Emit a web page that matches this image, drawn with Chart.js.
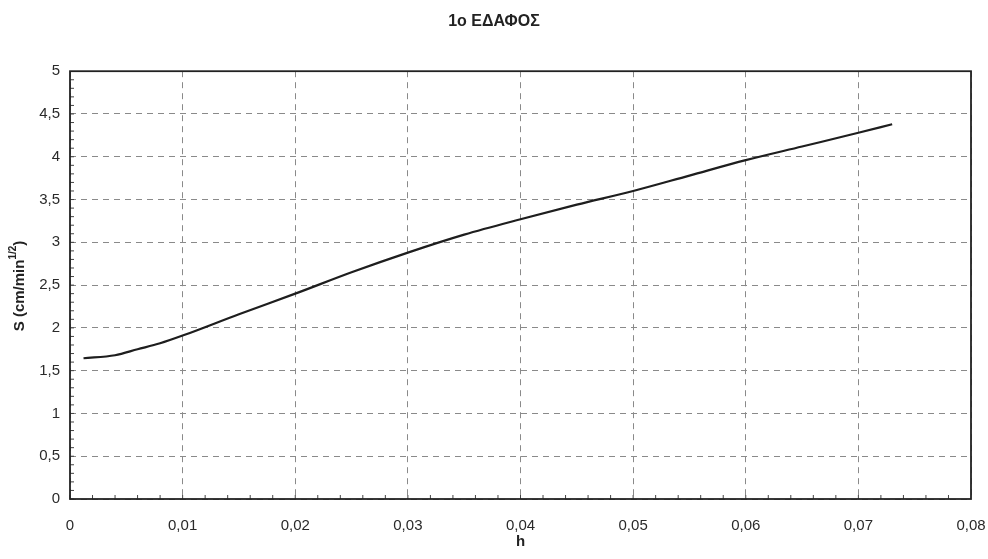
<!DOCTYPE html>
<html lang="el">
<head>
    <meta charset="UTF-8">
    <title>1o ΕΔΑΦΟΣ</title>
    <script src="https://cdn.jsdelivr.net/npm/chart.js"></script>
    <style>
        html, body { margin: 0; padding: 0; background: #fff; }
        #wrap { width: 988px; height: 559px; }
    </style>
</head>
<body>
    <div id="wrap"><canvas id="soilChart"></canvas></div>

    <script>
        // τιμές που διαβάστηκαν από το διάγραμμα
        const hValues = [0.0012, 0.004, 0.006, 0.008, 0.01, 0.015, 0.02, 0.025, 0.03, 0.035, 0.04, 0.045, 0.05, 0.055, 0.06, 0.065, 0.07, 0.073];
        const sValues = [1.645, 1.68, 1.75, 1.82, 1.91, 2.16, 2.40, 2.65, 2.88, 3.09, 3.27, 3.44, 3.60, 3.78, 3.96, 4.12, 4.28, 4.38];
        const xTicks = [0, 0.01, 0.02, 0.03, 0.04, 0.05, 0.06, 0.07, 0.08];
        const yTicks = [0, 0.5, 1, 1.5, 2, 2.5, 3, 3.5, 4, 4.5, 5];

        const FONT = '"Liberation Sans", Arial, sans-serif';
        const comma = v => String(Math.round(v * 100) / 100).replace('.', ',');

        // πλαίσιο γύρω από την περιοχή σχεδίασης + μικρές υποδιαιρέσεις
        const framePlugin = {
            id: 'frame',
            afterDraw(chart) {
                const { ctx, chartArea: a, scales } = chart;
                ctx.save();
                ctx.strokeStyle = '#444';
                ctx.lineWidth = 1;
                for (let i = 0; i < 40; i++) {
                    const px = scales.x.getPixelForValue(i * 0.002);
                    ctx.beginPath();
                    ctx.moveTo(px, a.bottom);
                    ctx.lineTo(px, a.bottom - 4);
                    ctx.stroke();
                }
                for (let i = 0; i < 50; i++) {
                    const py = scales.y.getPixelForValue(i * 0.1);
                    ctx.beginPath();
                    ctx.moveTo(a.left, py);
                    ctx.lineTo(a.left + 4, py);
                    ctx.stroke();
                }
                ctx.lineWidth = 1.8;
                ctx.strokeStyle = '#222';
                ctx.strokeRect(a.left, a.top, a.right - a.left, a.bottom - a.top);
                ctx.restore();
            }
        };

        // τίτλος άξονα y με εκθέτη
        const yTitlePlugin = {
            id: 'yTitle',
            afterDraw(chart) {
                const { ctx } = chart;
                const main = 'S (cm/min';
                const sup = '1/2';
                const big = 'bold 15px ' + FONT;
                const small = 'bold 10px ' + FONT;
                ctx.save();
                ctx.fillStyle = '#222';
                ctx.font = big;
                const w1 = ctx.measureText(main).width;
                const w3 = ctx.measureText(')').width;
                ctx.font = small;
                const w2 = ctx.measureText(sup).width;
                const total = w1 + w2 + w3;
                ctx.translate(20, 286);
                ctx.rotate(-Math.PI / 2);
                ctx.textBaseline = 'middle';
                ctx.textAlign = 'left';
                let x = -total / 2;
                ctx.font = big;
                ctx.fillText(main, x, 0);
                x += w1;
                ctx.font = small;
                ctx.fillText(sup, x, -7);
                x += w2;
                ctx.font = big;
                ctx.fillText(')', x, 0);
                ctx.restore();
            }
        };

        const ctx = document.getElementById('soilChart').getContext('2d');
        new Chart(ctx, {
            type: 'line',
            data: {
                datasets: [{
                    label: '1o ΕΔΑΦΟΣ',
                    data: hValues.map((h, i) => ({ x: h, y: sValues[i] })),
                    borderColor: '#1e1e1e',
                    borderWidth: 2.2,
                    pointRadius: 0,
                    fill: false,
                    cubicInterpolationMode: 'monotone'
                }]
            },
            options: {
                responsive: true,
                maintainAspectRatio: false,
                animation: false,
                layout: { padding: 0 },
                scales: {
                    x: {
                        type: 'linear',
                        min: 0,
                        max: 0.08,
                        afterBuildTicks: s => { s.ticks = xTicks.map(v => ({ value: v })); },
                        ticks: {
                            callback: v => comma(v),
                            color: '#2a2a2a',
                            font: { family: FONT, size: 15 },
                            padding: 18,
                            maxRotation: 0
                        },
                        grid: {
                            color: '#8a8a8a',
                            lineWidth: 1,
                            drawTicks: false
                        },
                        border: { display: false, dash: [6, 5] },
                        title: {
                            display: true,
                            text: 'h',
                            color: '#222',
                            font: { family: FONT, size: 15, weight: 'bold' },
                            padding: { top: 0, bottom: 8 }
                        },
                        afterFit: s => { s.height = 60; s.paddingRight = 17; }
                    },
                    y: {
                        min: 0,
                        max: 5,
                        afterBuildTicks: s => { s.ticks = yTicks.map(v => ({ value: v })); },
                        ticks: {
                            callback: v => comma(v),
                            color: '#2a2a2a',
                            font: { family: FONT, size: 15 },
                            padding: 10
                        },
                        grid: {
                            color: '#8a8a8a',
                            lineWidth: 1,
                            drawTicks: false
                        },
                        border: { display: false, dash: [6, 5] },
                        afterFit: s => { s.width = 70; }
                    }
                },
                plugins: {
                    legend: { display: false },
                    tooltip: { enabled: false },
                    title: {
                        display: true,
                        text: '1o ΕΔΑΦΟΣ',
                        color: '#222',
                        font: { family: FONT, size: 16, weight: 'bold' },
                        padding: { top: 12, bottom: 40 }
                    }
                }
            },
            plugins: [framePlugin, yTitlePlugin]
        });
    </script>
</body>
</html>
